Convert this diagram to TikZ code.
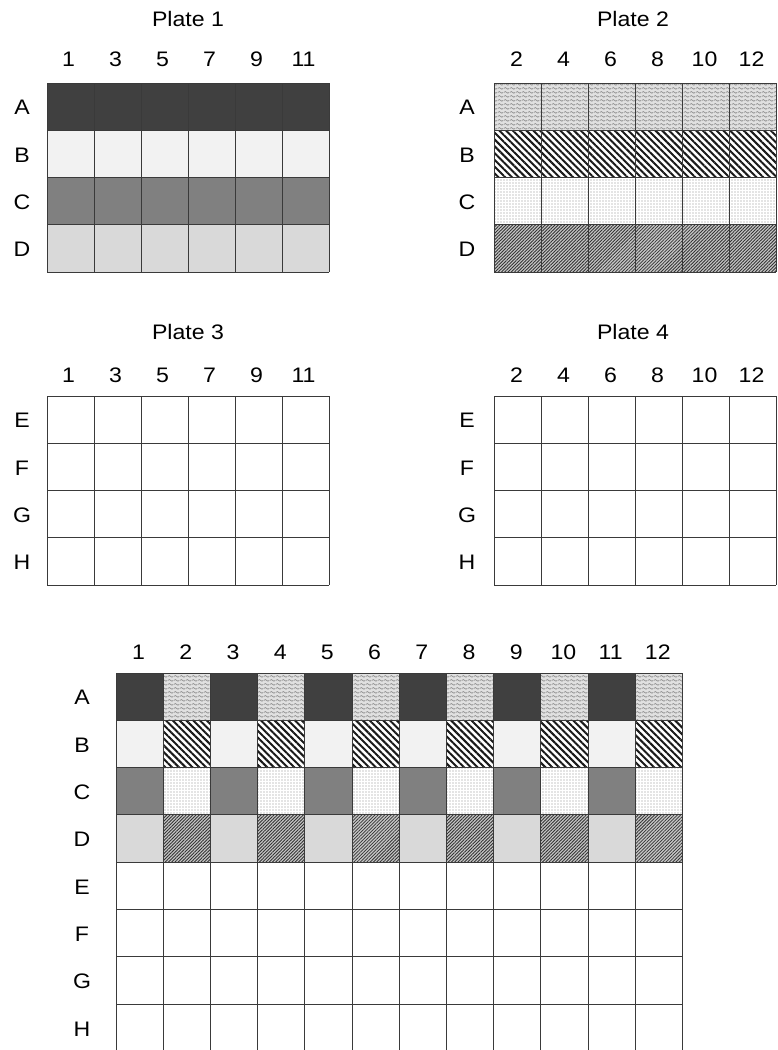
\documentclass[tikz,border=0pt]{standalone}
\usepackage{fontspec}
\setmainfont{Liberation Sans}[FakeStretch=1.1]
\usetikzlibrary{patterns.meta}
\definecolor{cA}{HTML}{404040}
\definecolor{cB}{HTML}{F2F2F2}
\definecolor{cC}{HTML}{808080}
\definecolor{cD}{HTML}{D9D9D9}
\definecolor{gridc}{HTML}{3A3A3A}
\tikzdeclarepattern{
  name=wavy,
  type=uncolored,
  bounding box={(0pt,0pt) and (6pt,4pt)},
  tile size={(6pt,4pt)},
  code={
    \draw[line width=0.8pt] (0pt,2pt) sin (1.5pt,3pt) cos (3pt,2pt) sin (4.5pt,1pt) cos (6pt,2pt);
  }
}
\tikzset{
  rowA/.style={fill=cA},
  rowB/.style={fill=cB},
  rowC/.style={fill=cC},
  rowD/.style={fill=cD},
  patA/.style={preaction={fill=black!12}, pattern=wavy, pattern color=black!45},
  patB/.style={preaction={fill=white}, pattern={Lines[angle=-45,distance=4.8pt,line width=2pt]}, pattern color=black!90},
  patC/.style={preaction={fill=white}, pattern={Dots[distance=3pt,radius=0.6pt]}, pattern color=black!45},
  patD/.style={preaction={fill=black!22}, pattern={Lines[angle=45,distance=2.3pt,line width=0.85pt]}, pattern color=black!80},
  gl/.style={draw=gridc, line width=0.9pt},
  lbl/.style={inner sep=0pt, font=\fontsize{21}{25}\selectfont},
}
\begin{document}
\begin{tikzpicture}[x=1pt,y=-1pt]
\useasboundingbox (0,0) rectangle (777,1050);
\clip (0,0) rectangle (777,1050);
\fill[white] (0,0) rectangle (777,1050);

% ---------- Plate 1 ----------
\foreach \r/\s in {0/rowA,1/rowB,2/rowC,3/rowD}
  \fill[\s] (47,83+\r*47.3) rectangle ++(282,47.3);
\foreach \i in {0,...,6} \draw[gl] (47+\i*47,83) -- ++(0,189.2);
\foreach \j in {0,...,4} \draw[gl] (47,83+\j*47.3) -- ++(282,0);
\node[lbl] (p1title) at (188,19) {Plate 1};
\foreach \n [count=\i] in {1,3,5,7,9,11}
  \node[lbl] (p1c\n) at (47+\i*47-25.5,59) {\n};
\foreach \l [count=\i] in {A,B,C,D}
  \node[lbl] (p1r\l) at (22,83+\i*47.3-22.6) {\l};

% ---------- Plate 2 ----------
\foreach \r/\s in {0/patA,1/patB,2/patC,3/patD}
  \fill[\s] (494,83+\r*47.3) rectangle ++(282,47.3);
\foreach \i in {0,...,6} \draw[gl] (494+\i*47,83) -- ++(0,189.2);
\foreach \j in {0,...,4} \draw[gl] (494,83+\j*47.3) -- ++(282,0);
\node[lbl] (p2title) at (633,19) {Plate 2};
\foreach \n [count=\i] in {2,4,6,8,10,12}
  \node[lbl] (p2c\n) at (494+\i*47-24.5,59) {\n};
\foreach \l [count=\i] in {A,B,C,D}
  \node[lbl] (p2r\l) at (467,83+\i*47.3-22.6) {\l};

% ---------- Plate 3 ----------
\foreach \i in {0,...,6} \draw[gl] (47+\i*47,396) -- ++(0,189.2);
\foreach \j in {0,...,4} \draw[gl] (47,396+\j*47.3) -- ++(282,0);
\node[lbl] (p3title) at (188,332) {Plate 3};
\foreach \n [count=\i] in {1,3,5,7,9,11}
  \node[lbl] (p3c\n) at (47+\i*47-25.5,375) {\n};
\foreach \l [count=\i] in {E,F,G,H}
  \node[lbl] (p3r\l) at (22,396+\i*47.3-22.6) {\l};

% ---------- Plate 4 ----------
\foreach \i in {0,...,6} \draw[gl] (494+\i*47,396) -- ++(0,189.2);
\foreach \j in {0,...,4} \draw[gl] (494,396+\j*47.3) -- ++(282,0);
\node[lbl] (p4title) at (633,332) {Plate 4};
\foreach \n [count=\i] in {2,4,6,8,10,12}
  \node[lbl] (p4c\n) at (494+\i*47-24.5,375) {\n};
\foreach \l [count=\i] in {E,F,G,H}
  \node[lbl] (p4r\l) at (467,396+\i*47.3-22.6) {\l};

% ---------- Combined plate ----------
\foreach \c in {0,2,...,10}
  \foreach \r/\s in {0/rowA,1/rowB,2/rowC,3/rowD}
    \fill[\s] (116+\c*47.2,673+\r*47.3) rectangle ++(47.2,47.3);
\foreach \c in {1,3,...,11}
  \foreach \r/\s in {0/patA,1/patB,2/patC,3/patD}
    \fill[\s] (116+\c*47.2,673+\r*47.3) rectangle ++(47.2,47.3);
\foreach \i in {0,...,12} \draw[gl] (116+\i*47.2,673) -- ++(0,380);
\foreach \j in {0,...,8} \draw[gl] (116,673+\j*47.3) -- ++(566.4,0);
\foreach \n in {1,...,12}
  \node[lbl] (bc\n) at (116+\n*47.2-24.6,652) {\n};
\foreach \l [count=\i] in {A,B,C,D,E,F,G,H}
  \node[lbl] (br\l) at (82,673+\i*47.3-22.6) {\l};
\end{tikzpicture}
\end{document}
